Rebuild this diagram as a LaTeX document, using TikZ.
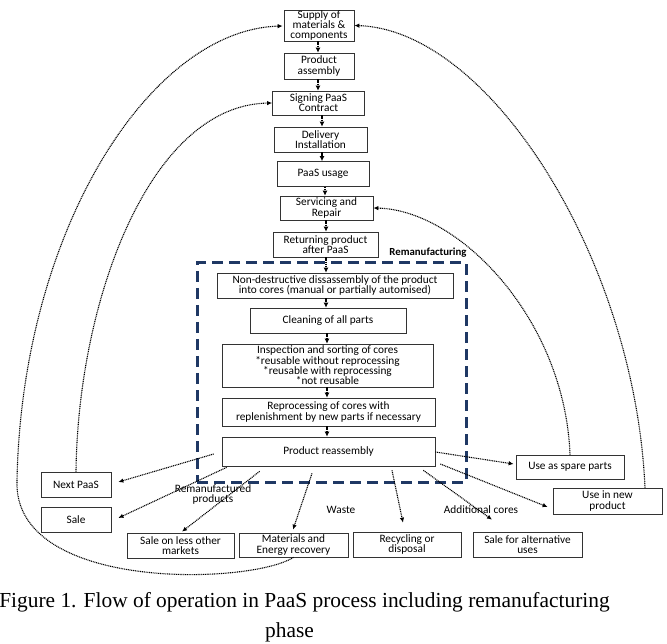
\documentclass[tikz,border=0pt]{standalone}
\usepackage{fontspec}
\setmainfont{Carlito}
\newfontfamily\capfont{Liberation Serif}
\usetikzlibrary{arrows.meta,calc}
\definecolor{navy}{HTML}{1F3864}
\begin{document}
\begin{tikzpicture}[x=1pt,y=-1pt,
  box/.style={draw=black!80, line width=0.7pt, inner sep=0.3pt, align=center,
    font=\fontsize{11.3}{10.3}\selectfont},
  lbl/.style={inner sep=0pt, align=center, font=\fontsize{11.3}{10.8}\selectfont},
  capt/.style={inner sep=0pt, font=\capfont\fontsize{21.4}{24}\selectfont},
  chain/.style={line width=1.5pt, dash pattern=on 1.2pt off 0.9pt, -{Latex[length=5pt,width=5pt]}},
  flow/.style={line width=1.1pt, dash pattern=on 1pt off 0.8pt, -{Latex[length=5pt,width=4.5pt]}},
  frame/.style={draw=navy, line width=3pt, dash pattern=on 11pt off 6pt, inner sep=0pt}
]
\useasboundingbox (0,0) rectangle (667,644);

% remanufacturing frame
\node[frame, minimum width=269pt, minimum height=219pt] (reman) at (331.5,372.5) {};
\node[inner sep=0pt, font=\bfseries\fontsize{10.8}{12}\selectfont] (remanlabel) at (428,253) {Remanufacturing};

% main chain
\node[box,minimum width=70pt,minimum height=31pt] (supply) at (319,25.5) {Supply of\\materials \&\\components};
\node[box,minimum width=70pt,minimum height=26pt] (assembly) at (319,66) {Product\\assembly};
\node[box,minimum width=92pt,minimum height=24pt] (signing) at (318.5,103) {Signing PaaS\\Contract};
\node[box,minimum width=93pt,minimum height=25pt] (delivery) at (320.5,139.5) {Delivery\\Installation};
\node[box,minimum width=92pt,minimum height=25pt] (usage) at (323,174) {PaaS usage};
\node[box,minimum width=93pt,minimum height=24pt] (servicing) at (326.5,208) {Servicing and\\Repair};
\node[box,minimum width=105pt,minimum height=25pt] (returning) at (325.5,244.5) {Returning product\\after PaaS};

\node[box,minimum width=236pt,minimum height=25pt] (nondes) at (335,285.5) {Non-destructive dissassembly of the product\\into cores (manual or partially automised)};
\node[box,minimum width=156pt,minimum height=25pt] (cleaning) at (328,320.5) {Cleaning of all parts};
\node[box,minimum width=211pt,minimum height=43pt] (inspection) at (327.5,365.5) {Inspection and sorting of cores\\*reusable without reprocessing\\*reusable with reprocessing\\*not reusable};
\node[box,minimum width=213pt,minimum height=28pt] (reprocessing) at (328.5,412) {Reprocessing of cores with\\replenishment by new parts if necessary};
\node[box,minimum width=213pt,minimum height=29pt] (reassembly) at (328.5,451.5) {Product reassembly};

% outcomes
\node[box,minimum width=70pt,minimum height=25pt] (nextpaas) at (76,484.5) {Next PaaS};
\node[box,minimum width=70pt,minimum height=25pt] (sale) at (76,519.5) {Sale};
\node[box,minimum width=107pt,minimum height=25pt] (lessmkt) at (180.5,545.5) {Sale on less other\\markets};
\node[box,minimum width=109pt,minimum height=24pt] (materials) at (293.5,545) {Materials and\\Energy recovery};
\node[box,minimum width=108pt,minimum height=25pt] (recycling) at (407,544.5) {Recycling or\\disposal};
\node[box,minimum width=109pt,minimum height=25pt] (altuses) at (527.5,544.5) {Sale for alternative\\uses};
\node[box,minimum width=108pt,minimum height=24pt] (spare) at (570,467) {Use as spare parts};
\node[box,minimum width=109pt,minimum height=26pt] (usenew) at (607.5,501) {Use in new\\product};

% labels
\node[lbl] (remprod) at (213,494.5) {Remanufactured\\products};
\node[lbl] (waste) at (341,510) {Waste};
\node[lbl] (addcores) at (481,510) {Additional cores};

% chain connectors
\draw[chain] ([xshift=-1pt]supply.south) -- ([xshift=-1pt]assembly.north);
\draw[chain] ([xshift=-1pt]assembly.south) -- ([xshift=-0.5pt]signing.north);
\draw[chain] ([xshift=3.5pt]signing.south) -- ([xshift=1.5pt]delivery.north);
\draw[chain] ([xshift=1.5pt]delivery.south) -- ([xshift=-1pt]usage.north);
\draw[chain] ([xshift=2pt]usage.south) -- ([xshift=-1.5pt]servicing.north);
\draw[chain] ([xshift=-0.5pt]servicing.south) -- ([xshift=0.5pt]returning.north);
\draw[chain] ([xshift=0.5pt]returning.south) -- ([xshift=-9pt]nondes.north);
\draw[chain] ([xshift=-9pt]nondes.south) -- ([xshift=-2pt]cleaning.north);
\draw[chain] ([xshift=-1pt]cleaning.south) -- ([xshift=-0.5pt]inspection.north);
\draw[chain] ([xshift=-0.5pt]inspection.south) -- ([xshift=-1.5pt]reprocessing.north);
\draw[chain] ([xshift=-1.5pt]reprocessing.south) -- ([xshift=-1.5pt]reassembly.north);

% from reassembly
\draw[flow] ($(reassembly.west)+(-8,2.5)$) -- ($(nextpaas.east)+(7,-2.5)$);
\draw[flow] ($(reassembly.south west)+(5,1)$) -- ($(sale.east)+(7,-1.5)$);
\draw[flow] ($(reassembly.south west)+(38,5)$) -- ($(lessmkt.north)+(1.5,-1)$);
\draw[flow] ($(reassembly.south)+(-16.5,7)$) -- ($(materials.north)+(-0.5,-3)$);
\draw[flow] ($(reassembly.south)+(63.5,4)$) -- ($(recycling.north)+(-4,-9)$);
\draw[flow] ($(reassembly.south east)+(-12,4)$) -- ($(altuses.north)+(-35.5,-12)$);
\draw[flow] ($(reassembly.east)+(0,0.5)$) -- ($(spare.west)+(-2,-3)$);
\draw[flow] ($(reassembly.east)+(5,12.5)$) -- ($(usenew.west)+(-5,6)$);

% feedback loops
\draw[flow] (materials.south) .. controls (250,585) and (12,592) .. (17,480)
  .. controls (22,230) and (150,30) .. ($(supply.west)+(-1,0.5)$);
\draw[flow] (nextpaas.north) .. controls (78,300) and (150,105) .. (signing.west);
\draw[flow] (spare.north) .. controls (565,320) and (460,210) .. (servicing.east);
\draw[flow] ($(usenew.north)+(37.5,0)$) .. controls (635,260) and (490,30) .. (supply.east);

% caption
\node[capt, anchor=base] (cap1) at (304.5,607) {Figure 1. Flow of operation in PaaS process including remanufacturing};
\node[capt, anchor=base] (cap2) at (289.5,637) {phase};
\end{tikzpicture}
\end{document}
